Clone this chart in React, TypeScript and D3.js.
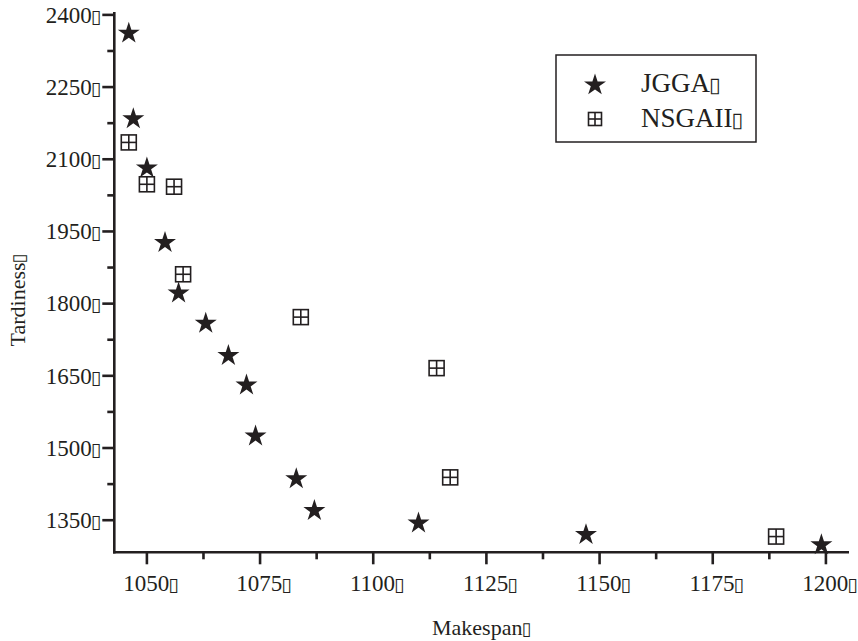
import React from 'react'
import * as d3 from 'd3'

const jggaMakespan = [1046, 1047, 1050, 1054, 1057, 1063, 1068, 1072, 1074, 1083, 1087, 1110, 1147, 1199]
const jggaTardiness = [2365, 2187, 2085, 1930, 1825, 1762, 1695, 1634, 1528, 1439, 1373, 1347, 1323, 1302]

const nsgaMakespan = [1046, 1050, 1056, 1058, 1084, 1114, 1117, 1189]
const nsgaTardiness = [2135, 2048, 2043, 1861, 1772, 1666, 1439, 1316]

const xTicks = [1050, 1075, 1100, 1125, 1150, 1175, 1200]
const xMinor = [1062.5, 1087.5, 1112.5, 1137.5, 1162.5, 1187.5]
const yTicks = [1350, 1500, 1650, 1800, 1950, 2100, 2250, 2400]
const yMinor = [1425, 1575, 1725, 1875, 2025, 2175, 2325]

const W = 858
const H = 641
const ink = '#231f20'
const serif = '"Liberation Serif", "Times New Roman", serif'
const box = '\u25AF'

// the missing-glyph box that trails every label in the original
const Box = ({ size }: { size: number }) => (
  <tspan fontFamily="DejaVu Sans" fontSize={size} dx={-1}>{box}</tspan>
)

const Square = ({ x, y, s }: { x: number; y: number; s: number }) => (
  <g transform={`translate(${x},${y})`} stroke={ink} strokeWidth={1.6} fill="#fff">
    <rect x={-s / 2} y={-s / 2} width={s} height={s} />
    <line x1={0} x2={0} y1={-s / 2} y2={s / 2} />
    <line x1={-s / 2} x2={s / 2} y1={0} y2={0} />
  </g>
)

export default function App() {
  const x = d3.scaleLinear().domain([1042.8, 1205.1]).range([114.3, 849])
  const y = d3.scaleLinear().domain([1283.3, 2406]).range([552.3, 12])
  const star = d3.symbol().type(d3.symbolStar).size(150)()
  const x0 = x.range()[0]
  const y0 = y.range()[0]

  return (
    <svg width={W} height={H} style={{ position: 'absolute', left: 0, top: 0, background: '#fff' }}>
      {/* axes */}
      <g stroke={ink} strokeWidth={2.6}>
        <line x1={x0} x2={x0} y1={y.range()[1]} y2={y0 + 1.3} />
        <line x1={x0 - 1.3} x2={x.range()[1]} y1={y0} y2={y0} />
        {yTicks.map((t) => (
          <line key={'ym' + t} x1={x0 - 12} x2={x0} y1={y(t)} y2={y(t)} />
        ))}
        {yMinor.map((t) => (
          <line key={'yn' + t} x1={x0 - 7} x2={x0} y1={y(t)} y2={y(t)} />
        ))}
        {xTicks.map((t) => (
          <line key={'xm' + t} x1={x(t)} x2={x(t)} y1={y0} y2={y0 + 12} />
        ))}
        {xMinor.map((t) => (
          <line key={'xn' + t} x1={x(t)} x2={x(t)} y1={y0} y2={y0 + 7} />
        ))}
      </g>

      {/* tick labels */}
      <g fontFamily={serif} fontSize={23} fill={ink}>
        {yTicks.map((t) => (
          <text key={'yl' + t} x={x0 - 13} y={y(t)} dy="0.34em" textAnchor="end">
            {t}
            <Box size={19} />
          </text>
        ))}
        {xTicks.map((t) => (
          <text key={'xl' + t} x={x(t) + 4} y={591} textAnchor="middle">
            {t}
            <Box size={19} />
          </text>
        ))}
        <text x={(x0 + x.range()[1]) / 2} y={635} textAnchor="middle" fontSize={22}>
          Makespan
          <Box size={18} />
        </text>
        <text transform={`translate(25,${300}) rotate(-90)`} textAnchor="middle" fontSize={22}>
          Tardiness
          <Box size={18} />
        </text>
      </g>

      {/* data */}
      <g>
        {nsgaMakespan.map((m, i) => (
          <Square key={'n' + i} x={x(m)} y={y(nsgaTardiness[i])} s={15} />
        ))}
        {jggaMakespan.map((m, i) => (
          <path key={'j' + i} d={star} fill={ink} transform={`translate(${x(m)},${y(jggaTardiness[i]) + 1.5})`} />
        ))}
      </g>

      {/* legend */}
      <g>
        <rect x={556} y={55} width={200} height={87} fill="#fff" stroke={ink} strokeWidth={1.5} />
        <path d={star} fill={ink} transform="translate(595,85)" />
        <Square x={595} y={119} s={13} />
        <g fontFamily={serif} fontSize={27} fill={ink}>
          <text x={641} y={92}>
            JGGA
            <Box size={21} />
          </text>
          <text x={641} y={127}>
            NSGAII
            <Box size={21} />
          </text>
        </g>
      </g>
    </svg>
  )
}
